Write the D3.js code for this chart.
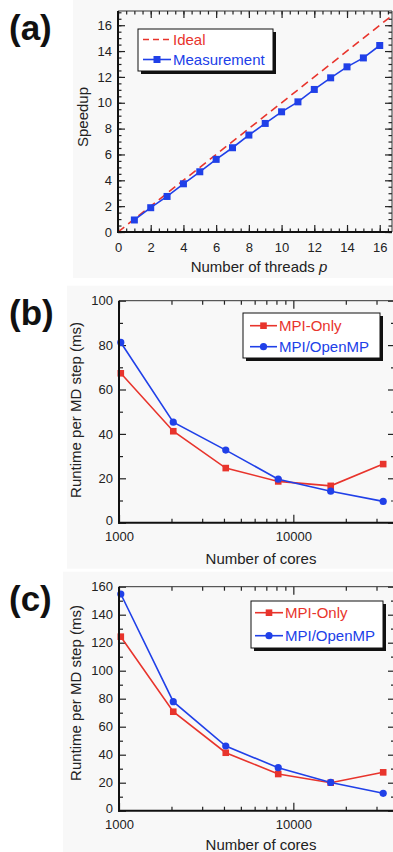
<!DOCTYPE html>
<html>
<head>
<meta charset="utf-8">
<script src="https://cdn.jsdelivr.net/npm/d3@7"></script>
<style>
  html, body { margin: 0; padding: 0; background: #fff; }
  svg { display: block; font-family: "Liberation Sans", Arial, Helvetica, sans-serif; }
</style>
</head>
<body>
<svg id="chart" width="393" height="852"></svg>
<script>
// panel (a) - thread scaling
const threads = [1, 2, 3, 4, 5, 6, 7, 8, 9, 10, 11, 12, 13, 14, 15, 16];
const speedup = [0.93, 1.88, 2.75, 3.73, 4.66, 5.62, 6.52, 7.5, 8.4, 9.3, 10.07, 11.03, 11.93, 12.78, 13.47, 14.43];
const idealP = [0, 17];
const speedupTicks = [0, 2, 4, 6, 8, 10, 12, 14, 16];

// panels (b) and (c) - core scaling
const cores = [1024, 2048, 4096, 8192, 16384, 32768];
const mpiOnlyB = [67.3, 41.2, 24.6, 18.6, 16.6, 26.4];
const hybridB = [81.2, 45.3, 32.7, 19.6, 14.2, 9.6];
const mpiOnlyC = [124.3, 70.7, 41.4, 26.2, 20.0, 27.4];
const hybridC = [154.8, 77.9, 46.2, 30.7, 20.2, 12.4];
const coreTicks = [1000, 10000];
const runtimeTicksB = [0, 20, 40, 60, 80, 100];
const runtimeTicksC = [0, 20, 40, 60, 80, 100, 120, 140, 160];

const RED = "#e8342c";
const BLUE = "#2040e8";
const INK = "#222";

const svg = d3.select("#chart");
const defs = svg.append("defs");

function frame(g, x, y) {
  const [x0, x1] = x.range();
  const [y1, y0] = y.range();
  g.append("line").attr("x1", x0).attr("x2", x1).attr("y1", y0).attr("y2", y0)
    .attr("stroke", "#333").attr("stroke-width", 1);
  g.append("line").attr("x1", x1).attr("x2", x1).attr("y1", y0).attr("y2", y1)
    .attr("stroke", "#333").attr("stroke-width", 1);
  g.append("line").attr("x1", x0 - 1).attr("x2", x1).attr("y1", y1).attr("y2", y1)
    .attr("stroke", "#111").attr("stroke-width", 2);
  g.append("line").attr("x1", x0).attr("x2", x0).attr("y1", y0).attr("y2", y1 + 1)
    .attr("stroke", "#111").attr("stroke-width", 2);
}

function ticks(g, axisFn, scale, values, size, translate, labels, pad) {
  const ax = axisFn(scale).tickValues(values).tickSize(-size).tickPadding(pad || 0)
    .tickFormat(labels ? d3.format("d") : "");
  const a = g.append("g").attr("transform", translate).call(ax);
  a.select(".domain").remove();
  a.selectAll("line").attr("stroke", "#222").attr("stroke-width", 1.2);
  a.selectAll("text").attr("fill", INK).attr("font-size", 13)
    .attr("font-family", "'Liberation Sans', Arial, sans-serif");
  return a;
}

function axesLinear(g, x, y, xMaj, xMin, yMaj, yMin, xPad) {
  const [x0, x1] = x.range();
  const [y1, y0] = y.range();
  ticks(g, d3.axisBottom, x, xMin, 3.5, `translate(0,${y1})`, false);
  ticks(g, d3.axisBottom, x, xMaj, 7, `translate(0,${y1})`, true, xPad);
  ticks(g, d3.axisTop, x, xMin, 3.5, `translate(0,${y0})`, false);
  ticks(g, d3.axisTop, x, xMaj, 7, `translate(0,${y0})`, false);
  ticks(g, d3.axisLeft, y, yMin, 3.5, `translate(${x0},0)`, false);
  ticks(g, d3.axisLeft, y, yMaj, 7, `translate(${x0},0)`, true, 6);
  ticks(g, d3.axisRight, y, yMin, 3.5, `translate(${x1},0)`, false);
  ticks(g, d3.axisRight, y, yMaj, 7, `translate(${x1},0)`, false);
}

function legendBox(g, bx, by, bw, bh, rows) {
  g.append("rect").attr("x", bx + 3).attr("y", by + 3).attr("width", bw).attr("height", bh)
    .attr("fill", "#111");
  g.append("rect").attr("x", bx).attr("y", by).attr("width", bw).attr("height", bh)
    .attr("fill", "#fff").attr("stroke", "#111").attr("stroke-width", 1);
  rows.forEach(r => {
    const ln = g.append("line").attr("x1", r.lx0).attr("x2", r.lx1).attr("y1", r.cy).attr("y2", r.cy)
      .attr("stroke", r.color).attr("stroke-width", 1.6);
    if (r.dash) ln.attr("stroke-dasharray", r.dash);
    if (r.marker === "square") {
      g.append("rect").attr("x", (r.lx0 + r.lx1) / 2 - r.ms / 2).attr("y", r.cy - r.ms / 2)
        .attr("width", r.ms).attr("height", r.ms).attr("fill", r.color);
    } else if (r.marker === "circle") {
      g.append("circle").attr("cx", (r.lx0 + r.lx1) / 2).attr("cy", r.cy).attr("r", r.ms / 2)
        .attr("fill", r.color);
    }
    g.append("text").attr("x", r.tx).attr("y", r.cy + 5.3).attr("fill", r.color)
      .attr("font-size", 15).text(r.label);
  });
}

function panelLabel(x, y, t) {
  svg.append("text").attr("x", x).attr("y", y).attr("font-size", 35).attr("font-weight", "bold")
    .attr("fill", "#111").text(t);
}

function yTitle(cx, cy, t) {
  svg.append("text").attr("transform", `translate(${cx},${cy}) rotate(-90)`)
    .attr("text-anchor", "middle").attr("font-size", 15).attr("fill", INK).text(t);
}

// ---------- (a) ----------
{
  const g = svg.append("g");
  g.append("rect").attr("x", 73).attr("y", 0).attr("width", 320).attr("height", 278).attr("fill", "#f8f8f8");
  const x = d3.scaleLinear().domain([0, 16.75]).range([118, 392]);
  const y = d3.scaleLinear().domain([0, 17.1]).range([232, 11]);
  defs.append("clipPath").attr("id", "clipA").append("rect")
    .attr("x", 118).attr("y", 11).attr("width", 274).attr("height", 221);

  axesLinear(g, x, y, speedupTicks, d3.range(0, 16.76, 0.5), speedupTicks, d3.range(0, 17.1, 0.5), 11);

  g.append("path").datum(idealP).attr("clip-path", "url(#clipA)")
    .attr("d", d3.line().x(d => x(d)).y(d => y(d)))
    .attr("fill", "none").attr("stroke", RED).attr("stroke-width", 1.6).attr("stroke-dasharray", "8,5");

  const pts = threads.map((t, i) => [t, speedup[i]]);
  g.append("path").datum(pts)
    .attr("d", d3.line().x(d => x(d[0])).y(d => y(d[1])))
    .attr("fill", "none").attr("stroke", BLUE).attr("stroke-width", 1.6);
  g.selectAll(".sq").data(pts).join("rect")
    .attr("x", d => x(d[0]) - 3.5).attr("y", d => y(d[1]) - 3.5)
    .attr("width", 7).attr("height", 7).attr("fill", BLUE);

  frame(g, x, y);

  legendBox(g, 138, 29, 135, 42, [
    {label: "Ideal", color: RED, cy: 39.5, lx0: 143, lx1: 171, tx: 173, dash: "6,4"},
    {label: "Measurement", color: BLUE, cy: 59.5, lx0: 143, lx1: 171, tx: 173, marker: "square", ms: 7}
  ]);

  const xt = g.append("text").attr("x", 259).attr("y", 272).attr("text-anchor", "middle")
    .attr("font-size", 15).attr("fill", INK);
  xt.append("tspan").text("Number of threads ");
  xt.append("tspan").attr("font-style", "italic").text("p");
  yTitle(88, 117, "Speedup");
  panelLabel(9, 40, "(a)");
}

function corePanel(top, bgX, bottom, yMax, runtimeTicks, minorStep, mpiOnly, hybrid, legend, labPad, xTitleY, yCy) {
  const g = svg.append("g");
  g.append("rect").attr("x", bgX).attr("y", top - 15).attr("width", 393 - bgX).attr("height", legend.bgH)
    .attr("fill", "#f8f8f8");
  const x = d3.scaleLog().domain([1000, 38300]).range([119, 395]);
  const y = d3.scaleLinear().domain([0, yMax]).range([bottom, top]);
  const minorX = x.ticks().filter(v => !coreTicks.includes(v));

  ticks(g, d3.axisBottom, x, minorX, 4, `translate(0,${bottom})`, false);
  ticks(g, d3.axisBottom, x, coreTicks, 8, `translate(0,${bottom})`, true, labPad);
  ticks(g, d3.axisTop, x, minorX, 4, `translate(0,${top})`, false);
  ticks(g, d3.axisTop, x, coreTicks, 8, `translate(0,${top})`, false);
  const minorY = d3.range(0, yMax + 0.1, minorStep).filter(v => !runtimeTicks.includes(v));
  ticks(g, d3.axisLeft, y, minorY, 4, `translate(119,0)`, false);
  const yl = ticks(g, d3.axisLeft, y, runtimeTicks, 7, `translate(119,0)`, true, 6);
  // the zero label sits a little above the corner, as in the source figure
  yl.selectAll("text").filter(d => d === 0).attr("y", -2);
  ticks(g, d3.axisRight, y, minorY, 4, `translate(395,0)`, false);
  ticks(g, d3.axisRight, y, runtimeTicks, 7, `translate(395,0)`, false);

  const line = d3.line().x(d => x(d[0])).y(d => y(d[1]));
  const red = cores.map((c, i) => [c, mpiOnly[i]]);
  const blue = cores.map((c, i) => [c, hybrid[i]]);
  g.append("path").datum(red).attr("d", line).attr("fill", "none").attr("stroke", RED).attr("stroke-width", 1.6);
  g.append("path").datum(blue).attr("d", line).attr("fill", "none").attr("stroke", BLUE).attr("stroke-width", 1.6);
  g.selectAll(".sq").data(red).join("rect")
    .attr("x", d => x(d[0]) - 3.3).attr("y", d => y(d[1]) - 3.3)
    .attr("width", 6.6).attr("height", 6.6).attr("fill", RED);
  g.selectAll(".ci").data(blue).join("circle")
    .attr("cx", d => x(d[0])).attr("cy", d => y(d[1])).attr("r", 3.6).attr("fill", BLUE);

  frame(g, x, y);

  legendBox(g, legend.bx, legend.by, legend.bw, legend.bh, [
    {label: "MPI-Only", color: RED, cy: legend.r1, lx0: legend.lx0, lx1: legend.lx1, tx: legend.tx, marker: "square", ms: 6.6},
    {label: "MPI/OpenMP", color: BLUE, cy: legend.r2, lx0: legend.lx0, lx1: legend.lx1, tx: legend.tx, marker: "circle", ms: 7.2}
  ]);

  g.append("text").attr("x", 261).attr("y", xTitleY).attr("text-anchor", "middle")
    .attr("font-size", 15).attr("fill", INK).text("Number of cores");
  yTitle(81, yCy, "Runtime per MD step (ms)");
}

// ---------- (b) ----------
corePanel(300.7, 67, 522.7, 100, runtimeTicksB, 10, mpiOnlyB, hybridB,
  {bgH: 283, bx: 243, by: 313, bw: 137, bh: 45, r1: 325.7, r2: 346.7, lx0: 250, lx1: 277, tx: 279},
  9, 563.5, 410);
panelLabel(9, 325, "(b)");

// ---------- (c) ----------
corePanel(586.7, 63, 810.7, 160, runtimeTicksC, 10, mpiOnlyC, hybridC,
  {bgH: 282, bx: 251, by: 601, bw: 132, bh: 47, r1: 612.7, r2: 635.7, lx0: 255, lx1: 283, tx: 285},
  9, 850, 693);
panelLabel(9, 611, "(c)");
</script>
</body>
</html>
